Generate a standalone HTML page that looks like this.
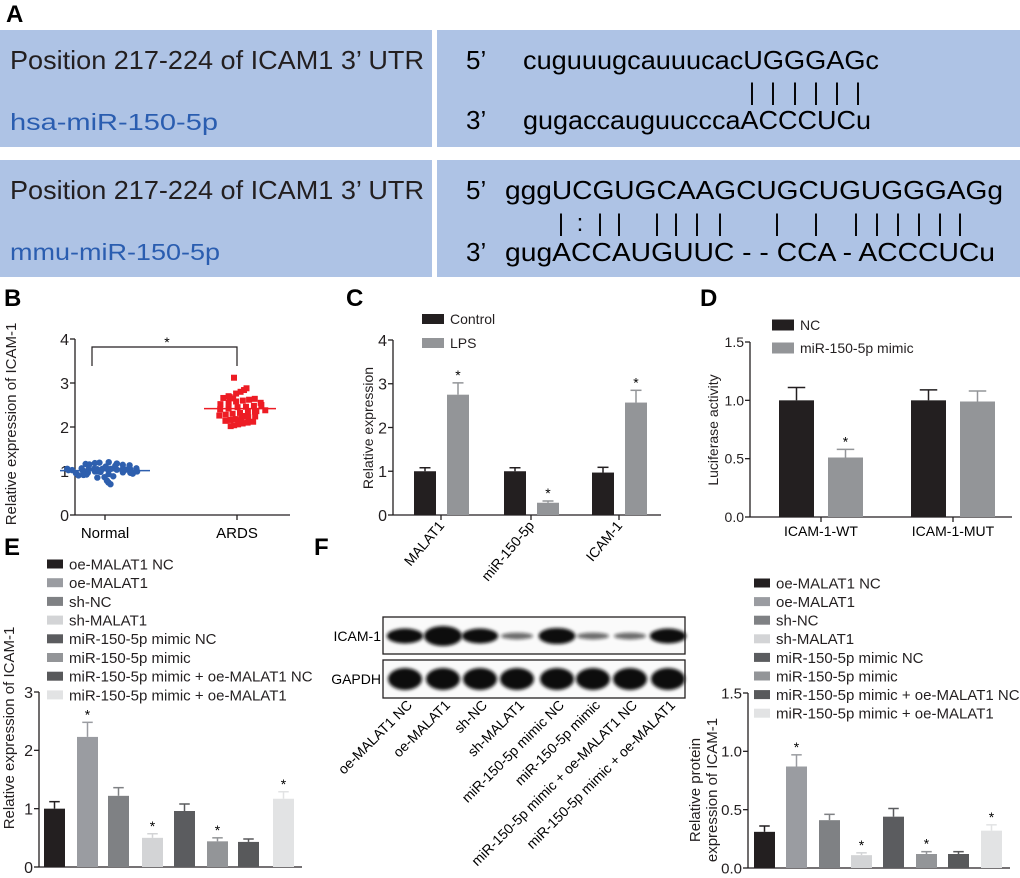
<!DOCTYPE html>
<html><head><meta charset="utf-8"><style>
html,body{margin:0;padding:0;background:#fff}
svg{display:block;font-family:"Liberation Sans",Arial,sans-serif}
</style></head><body>
<svg id="fig" width="1020" height="878" viewBox="0 0 1020 878">
<defs><filter id="blur" x="-20%" y="-50%" width="140%" height="200%"><feGaussianBlur stdDeviation="1.6"/></filter></defs>
<g>
<text x="6" y="22" font-size="24" font-weight="bold">A</text>
<rect x="0" y="30" width="432" height="117" fill="#aec3e5"/>
<rect x="437" y="30" width="583" height="117" fill="#aec3e5"/>
<rect x="0" y="160" width="432" height="117" fill="#aec3e5"/>
<rect x="437" y="160" width="583" height="117" fill="#aec3e5"/>
<text x="10" y="69" font-size="26" textLength="414" lengthAdjust="spacingAndGlyphs" fill="#231f20">Position 217-224 of ICAM1 3’ UTR</text>
<text x="10" y="130" font-size="23" textLength="208" lengthAdjust="spacingAndGlyphs" fill="#2a5db0">hsa-miR-150-5p</text>
<text x="466" y="69" font-size="26">5’</text>
<text x="523" y="69" font-size="26" textLength="356" lengthAdjust="spacingAndGlyphs">cuguuugcauuucacUGGGAGc</text>
<text x="466" y="129" font-size="26">3’</text>
<text x="523" y="129" font-size="26" textLength="348" lengthAdjust="spacingAndGlyphs">gugaccauguucccaACCCUCu</text>
<g id="pipes1"></g>
<text x="10" y="199" font-size="26" textLength="414" lengthAdjust="spacingAndGlyphs" fill="#231f20">Position 217-224 of ICAM1 3’ UTR</text>
<text x="10" y="260" font-size="23" textLength="210" lengthAdjust="spacingAndGlyphs" fill="#2a5db0">mmu-miR-150-5p</text>
<text x="466" y="199" font-size="26">5’</text>
<text x="505" y="199" font-size="26" textLength="498" lengthAdjust="spacingAndGlyphs">gggUCGUGCAAGCUGCUGUGGGAGg</text>
<text x="466" y="261" font-size="26">3’</text>
<text x="505" y="261" font-size="26" textLength="490" lengthAdjust="spacingAndGlyphs">gugACCAUGUUC - - CCA  - ACCCUCu</text>
<g id="pipes2"></g>
</g>
<text x="4" y="306" font-size="24" font-weight="bold">B</text>
<text x="346" y="306" font-size="24" font-weight="bold">C</text>
<text x="700" y="306" font-size="24" font-weight="bold">D</text>
<text x="4" y="555" font-size="24" font-weight="bold">E</text>
<text x="314" y="555" font-size="24" font-weight="bold">F</text>
<g id="panelB"></g>
<g id="panelC"></g>
<g id="panelD"></g>
<g id="panelE"></g>
<g id="blot"></g>
<g id="panelF"></g>
</svg>
<script>
const bNormal = [1.05,1.04,1.03,1.05,1.04,1.02,1.06,1.03,1.05,1.04,1.18,1.16,1.14,1.12,1.10,1.19,1.15,1.13,1.17,1.20,0.98,0.96,0.95,0.94,0.97,0.93,0.99,0.92,0.90,0.96,0.88,0.86,0.85,0.91,0.70,0.74,0.78,1.00,1.01,1.02,0.99,1.03,1.04,1.05,1.06];
const bArds = [3.12,2.88,2.84,2.80,2.76,2.68,2.66,2.64,2.62,2.60,2.58,2.55,2.52,2.50,2.48,2.46,2.45,2.42,2.40,2.38,2.36,2.34,2.32,2.30,2.28,2.26,2.24,2.22,2.20,2.18,2.16,2.14,2.12,2.10,2.08,2.06,2.04,2.02,2.55,2.35,2.25,2.15,2.65,2.70];
const bGroups = ["Normal","ARDS"];
const bTicks = [0,1,2,3,4];

const cCats = ["MALAT1","miR-150-5p","ICAM-1"];
const cControl = [1.0,1.0,0.97];
const cControlErr = [0.08,0.08,0.12];
const cLPS = [2.75,0.28,2.57];
const cLPSErr = [0.27,0.04,0.28];
const cStars = [true,true,true];
const cTicks = [0,1,2,3,4];

const dCats = ["ICAM-1-WT","ICAM-1-MUT"];
const dNC = [1.0,1.0];
const dNCErr = [0.11,0.09];
const dMimic = [0.51,0.99];
const dMimicErr = [0.07,0.09];
const dStars = [true,false];
const dTicks = [0,0.5,1.0,1.5];

const groups = ["oe-MALAT1 NC","oe-MALAT1","sh-NC","sh-MALAT1","miR-150-5p mimic NC","miR-150-5p mimic","miR-150-5p mimic + oe-MALAT1 NC","miR-150-5p mimic + oe-MALAT1"];
const eVals = [1.0,2.23,1.22,0.5,0.96,0.44,0.43,1.17];
const eErr = [0.12,0.25,0.14,0.07,0.12,0.06,0.05,0.12];
const eStars = [false,true,false,true,false,true,false,true];
const eTicks = [0,1,2,3];
const fVals = [0.31,0.87,0.41,0.11,0.44,0.12,0.12,0.32];
const fErr = [0.05,0.10,0.05,0.02,0.07,0.02,0.02,0.05];
const fStars = [false,true,false,true,false,true,false,true];
const fTicks = [0,0.5,1.0,1.5];
const fTickLabels = ["0.0","0.5","1.0","1.5"];
const blotIcam = [0.8,1.0,0.8,0.25,0.85,0.25,0.25,0.8];
const blotGapdh = [1,1,1,1,1,1,1,1];
const groupColors = ["#231f20","#9a9ca1","#7f8184","#d3d4d6","#5b5c5f","#939598","#58595b","#e2e3e4"];

const NS="http://www.w3.org/2000/svg";
function mk(parent,tag,attrs,txt){const e=document.createElementNS(NS,tag);for(const k in attrs)e.setAttribute(k,attrs[k]);if(txt!==undefined)e.textContent=txt;parent.appendChild(e);return e;}
function lin(d0,d1,r0,r1){return v=>r0+(v-d0)/(d1-d0)*(r1-r0);}

const p1=document.getElementById('pipes1');
[752,773,795,816,837,858].forEach(x=>{const t=mk(p1,'text',{x:x,y:100,'font-size':24,'text-anchor':'middle'},'|');

});
const p2=document.getElementById('pipes2');
[[561,'|'],[580,':'],[600,'|'],[619,'|'],[657,'|'],[676,'|'],[697,'|'],[720,'|'],[777,'|'],[816,'|'],[856,'|'],[877,'|'],[898,'|'],[919,'|'],[940,'|'],[960,'|']].forEach(([x,c])=>{const t=mk(p2,'text',{x:x,y:231,'font-size':24,'text-anchor':'middle'},c);

});

function axisY(g,x,y,ticks,labels,fs,name){
  const top=y(ticks[ticks.length-1]),bot=y(ticks[0]);
  const a=mk(g,'line',{x1:x,y1:top,x2:x,y2:bot,stroke:'#231f20','stroke-width':1.3});
  
  
  ticks.forEach((t,i)=>{mk(g,'line',{x1:x-5,y1:y(t),x2:x,y2:y(t),stroke:'#231f20','stroke-width':1.3});
    const l=mk(g,'text',{x:x-6,y:y(t)+fs*0.36,'font-size':fs,'text-anchor':'end',fill:'#231f20'},labels[i]);
    
    });
}
function ylab(g,x,cy,txt,fs,name){const t=mk(g,'text',{x:x,y:cy,'font-size':fs,'text-anchor':'middle',transform:`rotate(-90 ${x} ${cy})`,fill:'#231f20'},txt);

}
function bar(g,x,w,y,v,err,color,star,name){
  const r=mk(g,'rect',{x:x,y:y(v),width:w,height:y(0)-y(v),fill:color});
  
  
  const cx=x+w/2,ye=y(v+err);
  mk(g,'line',{x1:cx,y1:y(v),x2:cx,y2:ye,stroke:color,'stroke-width':1.5});
  mk(g,'line',{x1:cx-w*0.25,y1:ye,x2:cx+w*0.25,y2:ye,stroke:color,'stroke-width':1.5});
  if(star){const s=mk(g,'text',{x:cx,y:ye-3,'font-size':14,'text-anchor':'middle'},'*');
    
    }
}
function legend(g,x,y,color,txt,fs,w,h,name){
  const r=mk(g,'rect',{x:x,y:y-h/2,width:w,height:h,fill:color});
  
  
  const t=mk(g,'text',{x:x+w+6,y:y+fs*0.36,'font-size':fs,fill:'#231f20'},txt);
  
  
}

(function(){
const g=document.getElementById('panelB');
const y=lin(0,4,515,339);
axisY(g,75,y,bTicks,bTicks.map(String),16,'b');
mk(g,'line',{x1:75,y1:515,x2:290,y2:515,stroke:'#231f20','stroke-width':1.3});
const gx=[105,237];
gx.forEach((x,i)=>{mk(g,'line',{x1:x,y1:515,x2:x,y2:520,stroke:'#231f20','stroke-width':1.3});
  const t=mk(g,'text',{x:x,y:538,'font-size':15,'text-anchor':'middle'},bGroups[i]);
  
  });
mk(g,'path',{d:'M92 366 V347 H237 V366',fill:'none',stroke:'#231f20','stroke-width':1.2});
const st=mk(g,'text',{x:167,y:347,'font-size':14,'text-anchor':'middle'},'*');


function plot(vals,cx,color,shape,maxSpread){
  const n=vals.length;
  const m=vals.reduce((a,b)=>a+b,0)/n;
  vals.forEach((v,i)=>{const off=((i*37)%n)/n;const spread=Math.max(6,maxSpread-Math.abs(v-m)*(shape?40:150));
    const x=cx+(off-0.5)*2*spread;
    let e;
    if(shape) e=mk(g,'rect',{x:x-3,y:y(v)-3,width:6,height:6,fill:color});
    else e=mk(g,'circle',{cx:x,cy:y(v),r:3.2,fill:color});
    
    });
  const hw=shape?36:45;
  mk(g,'line',{x1:cx-hw,y1:y(m),x2:cx+hw,y2:y(m),stroke:color,'stroke-width':1.5});
}
plot(bNormal,105,'#2e5fae',false,44);
plot(bArds,240,'#ed1c24',true,28);
ylab(g,16,424,'Relative expression of ICAM-1',15,'b-y-axis-title');
})();

(function(){
const g=document.getElementById('panelC');
const y=lin(0,4,515,340);
axisY(g,393,y,cTicks,cTicks.map(String),16,'c');
mk(g,'line',{x1:393,y1:515,x2:661,y2:515,stroke:'#231f20','stroke-width':1.3});
const x0=[414,504,592];
cCats.forEach((c,i)=>{
  bar(g,x0[i],22,y,cControl[i],cControlErr[i],'#231f20',false,'c-bar-control');
  bar(g,x0[i]+33,22,y,cLPS[i],cLPSErr[i],'#939598',cStars[i],'c-bar-lps');
  const tx=x0[i]+27;
  mk(g,'line',{x1:tx,y1:515,x2:tx,y2:520,stroke:'#231f20','stroke-width':1.3});
  const t=mk(g,'text',{x:tx+4,y:526,'font-size':14,'text-anchor':'end',transform:`rotate(-50 ${tx+4} 526)`},c);
  
  
});
legend(g,422,319,'#231f20','Control',14,22,10,'c-legend-control');
legend(g,422,343,'#939598','LPS',14,22,10,'c-legend-lps');
ylab(g,373,428,'Relative expression',14,'c-y-axis-title');
})();

(function(){
const g=document.getElementById('panelD');
const y=lin(0,1.5,517,342);
axisY(g,750,y,dTicks,["0.0","0.5","1.0","1.5"],14,'d');
mk(g,'line',{x1:750,y1:517,x2:1012,y2:517,stroke:'#231f20','stroke-width':1.3});
const x0=[779,911];
dCats.forEach((c,i)=>{
  bar(g,x0[i],35,y,dNC[i],dNCErr[i],'#231f20',false,'d-bar-nc');
  bar(g,x0[i]+49,35,y,dMimic[i],dMimicErr[i],'#939598',dStars[i],'d-bar-mimic');
  const tx=x0[i]+42;
  mk(g,'line',{x1:tx,y1:517,x2:tx,y2:522,stroke:'#231f20','stroke-width':1.3});
  const t=mk(g,'text',{x:tx,y:536,'font-size':14,'text-anchor':'middle'},c);
  
  
});
legend(g,772,325,'#231f20','NC',14,22,11,'d-legend-nc');
legend(g,772,348,'#939598','miR-150-5p mimic',14,22,11,'d-legend-mimic');
ylab(g,718,430,'Luciferase activity',14,'d-y-axis-title');
})();

(function(){
const g=document.getElementById('panelE');
const y=lin(0,3,867,692);
axisY(g,39,y,eTicks,eTicks.map(String),16,'e');
mk(g,'line',{x1:39,y1:867,x2:302,y2:867,stroke:'#231f20','stroke-width':1.3});
const xs=[44,77,108,142,174,207,238,273];
groups.forEach((n,i)=>{
  bar(g,xs[i],21,y,eVals[i],eErr[i],groupColors[i],eStars[i],'e-bar');
  legend(g,47,564+i*18.7,groupColors[i],n,15,16,9,'e-legend-entry');
});
ylab(g,14,728,'Relative expression of ICAM-1',15,'e-y-axis-title');
})();

(function(){
const g=document.getElementById('blot');
const lanes=[405,443,480,517,557,593,630,668];
const b1=mk(g,'rect',{x:383,y:617,width:302,height:37,fill:'#fafafa',stroke:'#231f20','stroke-width':1.3});


const b2=mk(g,'rect',{x:383,y:660,width:302,height:38,fill:'#fafafa',stroke:'#231f20','stroke-width':1.3});


const t1=mk(g,'text',{x:381,y:641,'font-size':14,'text-anchor':'end'},'ICAM-1');


const t2=mk(g,'text',{x:381,y:684,'font-size':14,'text-anchor':'end'},'GAPDH');


lanes.forEach((x,i)=>{
  const a=blotIcam[i];
  const e=mk(g,'ellipse',{cx:x,cy:636,rx:15+4*a,ry:3+7*a*a,fill:'#111',opacity:Math.min(1,0.35+a),filter:'url(#blur)'});
  
  
  const e2=mk(g,'ellipse',{cx:x,cy:679,rx:17,ry:11*blotGapdh[i],fill:'#111',filter:'url(#blur)'});
  
  
  const t=mk(g,'text',{x:x+8,y:706,'font-size':14,'text-anchor':'end',transform:`rotate(-45 ${x+8} 706)`},groups[i]);
  
  
});
})();

(function(){
const g=document.getElementById('panelF');
const y=lin(0,1.5,868,693);
axisY(g,748,y,fTicks,fTickLabels,15,'f');
mk(g,'line',{x1:748,y1:868,x2:1010,y2:868,stroke:'#231f20','stroke-width':1.3});
const xs=[754,786,819,851,883,916,948,981];
groups.forEach((n,i)=>{
  bar(g,xs[i],21,y,fVals[i],fErr[i],groupColors[i],fStars[i],'f-bar');
  legend(g,754,583+i*18.6,groupColors[i],n,15,16,9,'f-legend-entry');
});
ylab(g,700,790,'Relative protein',15,'f-y-axis-title-1');
ylab(g,717,790,'expression of ICAM-1',15,'f-y-axis-title-2');
})();
</script>
</body></html>
